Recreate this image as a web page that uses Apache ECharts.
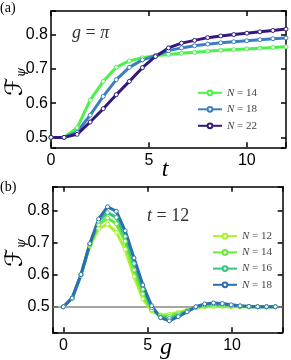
<!DOCTYPE html>
<html><head><meta charset="utf-8">
<script src="https://cdn.jsdelivr.net/npm/echarts@6/dist/echarts.min.js"></script>
<style>html,body{margin:0;padding:0;background:#fff}#c{width:291px;height:360px}</style>
</head><body><div id="c"></div>
<script>
// Panel (a): F_psi vs t at g = pi
const tA = [0,0.667,1.333,2,2.667,3.333,4,4.667,5.333,6,6.667,7.333,8,8.667,9.333,10,10.667,11.333,12];
const a14 = [0.5,0.5,0.528,0.609,0.664,0.705,0.724,0.733,0.739,0.743,0.746,0.749,0.752,0.755,0.757,0.759,0.761,0.763,0.765];
const a18 = [0.5,0.5,0.515,0.565,0.62,0.669,0.705,0.727,0.739,0.754,0.762,0.768,0.773,0.777,0.780,0.783,0.786,0.789,0.791];
const a22 = [0.5,0.5,0.509,0.545,0.584,0.625,0.664,0.704,0.737,0.762,0.776,0.784,0.792,0.797,0.801,0.805,0.809,0.813,0.817];
// Panel (b): F_psi vs g at t = 12
const gB = [0,0.524,1.047,1.571,2.094,2.618,3.142,3.665,4.189,4.712,5.236,5.760,6.283,6.807,7.330,7.854,8.378,8.901,9.425,9.948,10.472,10.996,11.519,12.043,12.566];
const b12 = [0.5,0.527,0.598,0.69,0.745,0.759,0.733,0.68,0.595,0.525,0.487,0.474,0.476,0.482,0.489,0.497,0.5,0.501,0.501,0.5,0.5,0.5,0.5,0.5,0.5];
const b14 = [0.5,0.527,0.6,0.693,0.757,0.778,0.76,0.705,0.615,0.54,0.49,0.471,0.47,0.478,0.487,0.498,0.503,0.505,0.504,0.502,0.501,0.5,0.5,0.5,0.5];
const b16 = [0.5,0.527,0.6,0.696,0.768,0.795,0.78,0.72,0.635,0.555,0.497,0.468,0.463,0.474,0.486,0.499,0.506,0.509,0.507,0.504,0.502,0.501,0.5,0.5,0.5];
const b18 = [0.5,0.527,0.601,0.698,0.775,0.813,0.799,0.738,0.653,0.568,0.503,0.466,0.456,0.469,0.484,0.5,0.509,0.512,0.51,0.506,0.503,0.501,0.5,0.5,0.5];
const ticksA_y = [0.5,0.6,0.7,0.8];

const colA = {a14:'#4cf24c', a18:'#3b7fc2', a22:'#33197d'};
const colB = {b12:'#a8f22c', b14:'#68e83e', b16:'#36c67c', b18:'#2c6db5'};

const zip = (xs, ys) => xs.map((x,i)=>[x, ys[i]]);
const isMult = (v, step) => Math.abs(v/step - Math.round(v/step)) < 1e-6;

function mkSeries(name, xs, ys, color, xi, yi, extra){
  return Object.assign({
    type:'line', name, xAxisIndex:xi, yAxisIndex:yi, data: zip(xs, ys),
    symbol:'circle', symbolSize:4, showSymbol:true,
    lineStyle:{color, width:3},
    itemStyle:{color:'#fff', borderColor:color, borderWidth:1},
    emphasis:{disabled:true}, animation:false, z:3
  }, extra||{});
}

const labelFont = {fontFamily:'Liberation Sans, Arial, sans-serif', fontSize:16, color:'#000'};
const lineBlack = {show:true, onZero:false, lineStyle:{color:'#000', width:1.5}};
const tickIn = {show:true, inside:true, length:5, lineStyle:{color:'#000', width:1.5}};

function xAx(gi, min, max, split, pos, labels){
  return {type:'value', gridIndex:gi, min, max, splitNumber:split, position:pos,
    axisLine:lineBlack, axisTick:tickIn, splitLine:{show:false},
    axisLabel: labels ? Object.assign({show:true, margin:5, formatter:v=> isMult(v,5)? String(Math.round(v)) : ''}, labelFont) : {show:false}};
}
function yAx(gi, min, max, split, pos, labels){
  return {type:'value', gridIndex:gi, min, max, splitNumber:split, position:pos,
    axisLine:lineBlack, axisTick:tickIn, splitLine:{show:false},
    axisLabel: labels ? Object.assign({show:true, margin:3, formatter:v=> (isMult(v,0.1) && ticksA_y.some(t=>Math.abs(t-v)<1e-6)) ? v.toFixed(1) : ''}, labelFont) : {show:false}};
}

const serifIt = 'Liberation Serif, Times New Roman, serif';
const legendText = {fontSize:11, fontFamily:serifIt, color:'#444', rich:{i:{fontStyle:'italic', fontSize:11, fontFamily:serifIt, color:'#444'}}};
const nameMap = {a14:'14', a18:'18', a22:'22', b12:'12', b14:'14', b16:'16', b18:'18'};

const option = {
  animation:false,
  backgroundColor:'#fff',
  grid:[
    {left:51, top:11, right:5, bottom:212.7, containLabel:false},
    {left:52.7, top:186.7, right:8.3, bottom:27.7, containLabel:false}
  ],
  xAxis:[
    xAx(0, 0, 12, 2, 'bottom', true),
    xAx(0, 0, 12, 2, 'top', false),
    xAx(1, -0.63, 13, 3, 'bottom', true),
    xAx(1, -0.63, 13, 3, 'top', false)
  ],
  yAxis:[
    yAx(0, 0.471, 0.870, 4, 'left', true),
    yAx(0, 0.471, 0.870, 4, 'right', false),
    yAx(1, 0.42, 0.876, 4, 'left', true),
    yAx(1, 0.42, 0.876, 4, 'right', false)
  ],
  legend:[
    {data:['a14','a18','a22'], orient:'vertical', left:197, top:87.3, padding:0, itemWidth:24, itemHeight:6, itemGap:5.5,
     formatter:n=>'{i|N} = '+nameMap[n], textStyle:legendText, selectedMode:false},
    {data:['b12','b14','b16','b18'], orient:'vertical', left:212, top:230.7, padding:0, itemWidth:24, itemHeight:6, itemGap:5.2,
     formatter:n=>'{i|N} = '+nameMap[n], textStyle:legendText, selectedMode:false}
  ],
  series:[
    mkSeries('a14', tA, a14, colA.a14, 0, 0),
    mkSeries('a18', tA, a18, colA.a18, 0, 0),
    mkSeries('a22', tA, a22, colA.a22, 0, 0),
    mkSeries('b12', gB, b12, colB.b12, 2, 2, {markLine:{silent:true, symbol:'none', label:{show:false}, lineStyle:{color:'#888', width:1.5, type:'solid'}, data:[{yAxis:0.5}], z:2}}),
    mkSeries('b14', gB, b14, colB.b14, 2, 2),
    mkSeries('b16', gB, b16, colB.b16, 2, 2),
    mkSeries('b18', gB, b18, colB.b18, 2, 2)
  ],
  graphic:[
    {type:'text', left:0, top:1, style:{text:'(a)', font:'14px Liberation Serif', fill:'#000'}},
    {type:'text', left:0, top:180, style:{text:'(b)', font:'14px Liberation Serif', fill:'#000'}},
    {type:'text', x:165, y:170, style:{text:'t', font:'italic 24px Liberation Serif', fill:'#000', align:'center', verticalAlign:'middle'}},
    {type:'text', x:166, y:348, style:{text:'g', font:'italic 24px Liberation Serif', fill:'#000', align:'center', verticalAlign:'middle'}},
    {type:'text', x:72, y:33, style:{text:'{i|g} = {i|π}', font:'18px Liberation Serif', fill:'#333', verticalAlign:'middle',
      rich:{i:{fontStyle:'italic', fontSize:18, fontFamily:'Liberation Serif', fill:'#333'}}}},
    {type:'text', x:147, y:216, style:{text:'{i|t} = 12', font:'18px Liberation Serif', fill:'#333', verticalAlign:'middle',
      rich:{i:{fontStyle:'italic', fontSize:18, fontFamily:'Liberation Serif', fill:'#333'}}}},
    {type:'text', x:16, y:82, rotation:Math.PI/2, style:{text:'{f|ℱ}{s|ψ}', align:'center', verticalAlign:'middle',
      rich:{f:{fontSize:24, fontFamily:'DejaVu Serif, DejaVu Sans', fill:'#000'}, s:{fontSize:12, fontFamily:'DejaVu Serif', fontStyle:'italic', fill:'#000', verticalAlign:'bottom', padding:[8,0,0,0]}}}},
    {type:'text', x:16, y:253, rotation:Math.PI/2, style:{text:'{f|ℱ}{s|ψ}', align:'center', verticalAlign:'middle',
      rich:{f:{fontSize:24, fontFamily:'DejaVu Serif, DejaVu Sans', fill:'#000'}, s:{fontSize:12, fontFamily:'DejaVu Serif', fontStyle:'italic', fill:'#000', verticalAlign:'bottom', padding:[8,0,0,0]}}}}
  ]
};
const chart = echarts.init(document.getElementById('c'), null, {renderer:'canvas'});
chart.setOption(option);
</script>
</body></html>
